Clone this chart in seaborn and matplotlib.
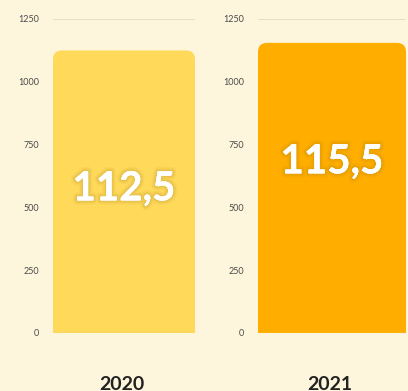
import matplotlib
matplotlib.use("Agg")
import matplotlib.pyplot as plt
import matplotlib.patheffects as pe
from matplotlib.patches import FancyBboxPatch, Rectangle
import seaborn as sns
import pandas as pd

years = ["2020", "2021"]
values = [1125, 1155]
bar_colors = ["#ffd95a", "#ffae00"]
label_heights = [0.51, 0.59]  # vertical position of the value label, as share of bar height
y_ticks = [0, 250, 500, 750, 1000, 1250]

bg = "#fef6dc"
sns.set_theme(style="white")
plt.rcParams["font.family"] = ["Lato", "DejaVu Sans"]

W, H = 408, 391
fig = plt.figure(figsize=(W / 100, H / 100), dpi=100, facecolor=bg)

panels = [(53, 195), (258, 406)]
top_px, bottom_px = 19, 333

glow = [pe.withStroke(linewidth=w, foreground="#8a6400", alpha=a) for w, a in ((6, 0.05), (4, 0.07), (2, 0.08))]

for i, (year, val, col, lh, (x0, x1)) in enumerate(zip(years, values, bar_colors, label_heights, panels)):
    ax = fig.add_axes([x0 / W, (H - bottom_px) / H, (x1 - x0) / W, (bottom_px - top_px) / H])
    ax.set_facecolor(bg)
    df = pd.DataFrame({"year": [year], "value": [val]})
    sns.barplot(data=df, x="year", y="value", color=col, width=1.0, ax=ax,
                saturation=1, zorder=2)
    ax.set_xlim(-0.5, 0.5)
    ax.set_ylim(0, 1250)
    ax.set_yticks(y_ticks)
    ax.set_yticklabels([str(t) for t in y_ticks], fontsize=6.5, color="#4a4a4a")
    ax.tick_params(axis="y", length=0, pad=10)
    ax.set_xticks([])
    ax.set_xlabel("")
    ax.set_ylabel("")
    for s in ax.spines.values():
        s.set_visible(False)
    for t in y_ticks:
        ax.axhline(t, color="#e6dec6", lw=0.8, zorder=1)

    # replace the plain bar with one that has rounded top corners
    bar = ax.patches[0]
    bx, bw, bh = bar.get_x(), bar.get_width(), bar.get_height()
    bar.remove()
    px_w = x1 - x0
    px_h = bottom_px - top_px
    x_per_px = 1.0 / px_w
    y_per_px = 1250 / px_h
    r_px = 9
    rounded = FancyBboxPatch((bx, 0), bw, bh,
                             boxstyle=f"round,pad=0,rounding_size={r_px * x_per_px}",
                             mutation_aspect=y_per_px / x_per_px,
                             facecolor=col, edgecolor="none", zorder=2)
    ax.add_patch(rounded)
    ax.add_patch(Rectangle((bx, 0), bw, bh / 2, facecolor=col, edgecolor="none", zorder=2))
    ax.axhline(0, color="#d9cfae", lw=0.8, zorder=3)

    label = f"{val / 10:.1f}".replace(".", ",")
    ax.text(0, val * lh, label, ha="center", va="center", fontsize=29,
            fontweight="bold", color="white", zorder=4,
            path_effects=glow + [pe.Normal()])

    fig.text((x0 + x1) / 2 / W - 0.005, (H - 384) / H, year, ha="center", va="center",
             fontsize=14, fontweight="bold", color="#222222")

fig.savefig("out.png", dpi=100, facecolor=bg)
